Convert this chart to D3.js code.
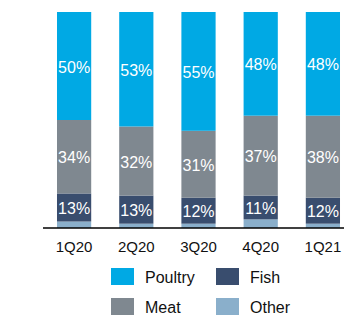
<!DOCTYPE html>
<html><head><meta charset="utf-8">
<script src="https://cdn.jsdelivr.net/npm/d3@7"></script>
<style>body{margin:0;background:#fff}svg{display:block}text{font-family:"Liberation Sans",Arial,sans-serif}</style>
</head><body><svg id="c" width="344" height="315"></svg>
<script>
const categories = ["1Q20","2Q20","3Q20","4Q20","1Q21"];
const fish = [13,13,12,11,12];
const meat = [34,32,31,37,38];
const poultry = [50,53,55,48,48];
const other = [3,2,2,4,2];
const seriesNames = ["Other","Fish","Meat","Poultry"];
const seriesColors = ["#8AAFCB","#394D6E","#7F8890","#00A9E4"];
const legendOrder = ["Poultry","Fish","Meat","Other"];

const rows = categories.map((c,i)=>({cat:c, Other:other[i], Fish:fish[i], Meat:meat[i], Poultry:poultry[i]}));
const stack = d3.stack().keys(seriesNames)(rows);
const color = d3.scaleOrdinal(seriesNames, seriesColors);

const svg = d3.select("#c");
const x = d3.scaleBand().domain(categories).range([43, 354]).paddingInner(0.45).paddingOuter(0.225);
const y = d3.scaleLinear().domain([0,100]).range([228, 12]);

const g = svg.append("g");
stack.forEach(s=>{
  g.selectAll(null).data(s).enter().append("rect")
    .attr("x", d=>x(d.data.cat)).attr("width", x.bandwidth())
    .attr("y", d=>y(d[1])).attr("height", d=>y(d[0])-y(d[1]))
    .attr("fill", color(s.key));
  if (s.key !== "Other") {
    g.selectAll(null).data(s).enter().append("text")
      .attr("x", d=>x(d.data.cat)+x.bandwidth()/2)
      .attr("y", d=>(y(d[0])+y(d[1]))/2+1)
      .attr("text-anchor","middle").attr("dominant-baseline","central")
      .attr("fill","#fff").attr("font-size","16px")
      .text(d=>(d[1]-d[0])+"%");
  }
});

const ax = svg.append("g").attr("transform","translate(0,228)")
  .call(d3.axisBottom(x).tickSize(0).tickPadding(13));
ax.select(".domain").attr("stroke","#000").attr("stroke-width",1.6).attr("d","M43,0H344");
ax.selectAll(".tick text").attr("font-size","15px").attr("fill","#111").attr("font-family","Liberation Sans, Arial, sans-serif");

const lg = svg.append("g");
legendOrder.forEach((k,i)=>{
  const col = i%2, row = Math.floor(i/2);
  const lx = col===0 ? 111 : 216;
  const ly = row===0 ? 268 : 298;
  lg.append("rect").attr("x",lx).attr("y",ly).attr("width",23).attr("height",17).attr("fill",color(k));
  lg.append("text").attr("x",lx+34).attr("y",ly+9).attr("dominant-baseline","central")
    .attr("font-size","16px").attr("fill","#111").text(k);
});
</script></body></html>
